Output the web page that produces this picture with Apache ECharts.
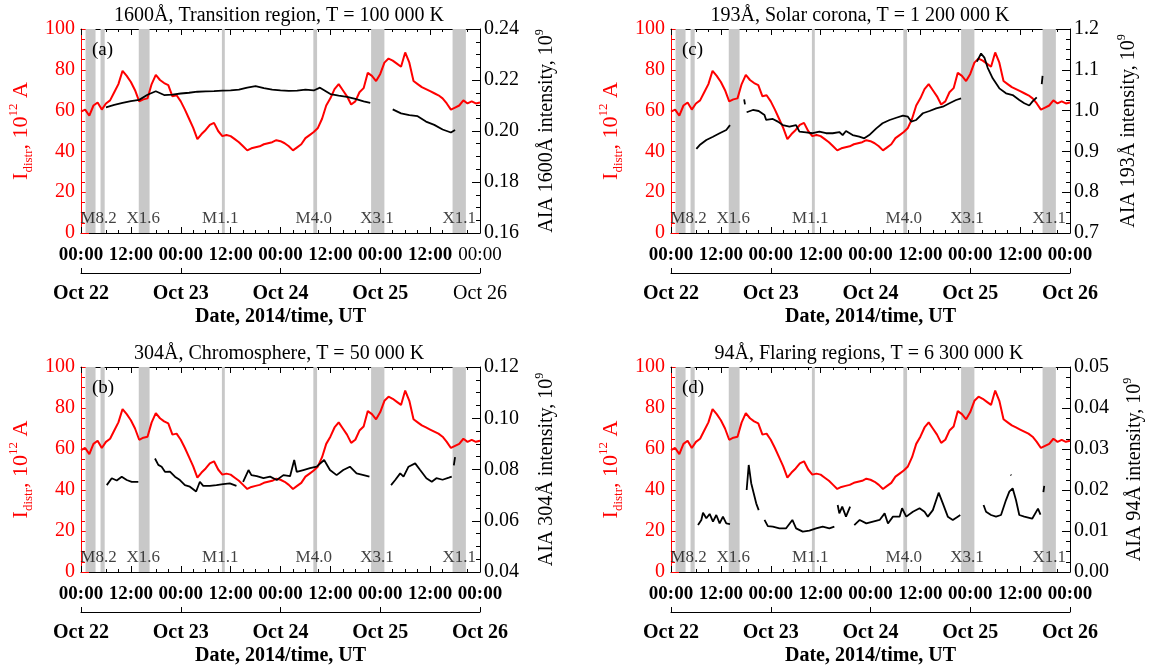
<!DOCTYPE html>
<html>
<head>
<meta charset="utf-8">
<script src="https://cdn.jsdelivr.net/npm/echarts@6/dist/echarts.min.js"></script>
<style>
html, body { margin: 0; padding: 0; background: #fff; }
#chart { width: 1164px; height: 671px; }
</style>
</head>
<body>
<div id="chart"></div>
<script>
// hours since 2014-10-22 00:00 UT
var hours = [0,1,2,3,4,5,6,7,8,9,10,11,12,13,14,15,16,17,18,19,20,21,22,23,24,
  25,26,27,28,29,30,31,32,33,34,35,36,37,38,39,40,41,42,43,44,45,46,47,48,
  49,50,51,52,53,54,55,56,57,58,59,60,61,62,63,64,65,66,67,68,69,70,71,72,
  73,74,75,76,77,78,79,80,81,82,83,84,85,86,87,88,89,90,91,92,93,94,95,96];

// I_distr, 10^12 A (red curve, same in every panel)
var iDistr = [59.5,60.5,57.5,62.5,64,60.5,63.5,65,69,73,79.5,77,74,70,64.5,65.5,66,73,77.5,75,73.5,72.5,67,67.5,64.5,
  60.5,56,51.5,46,48.5,50.5,53,54,50,47.5,48,47.5,46,44.5,42.5,40.5,41.5,42,42.5,43.5,44,44.5,45.5,45,
  44,42.5,40.5,42,43.5,46.5,48,49.5,51.5,56,62.5,66,70.5,73,70,67,63,64.5,69,71,78.5,77,74.5,78,
  83.5,85.5,84.5,83,81.5,88.5,83.5,74.5,73,71.5,70.5,69.5,68.5,67.5,66,63.5,60.5,61.5,62.5,65,63.5,64.5,63.5,64];

// AIA intensities, 10^9 (black curves, null = no data)
var aia1600Hours = [6,8,10,12,14,16,18,20,22,24,26,28,30,32,34,36,38,40,42,44,46,48,50,52,54,56,57.5,60,62,64,
  66,68,69.6,72,75,77,79,81,83,85,87,89,90];
var aia1600 = [0.2093,0.2102,0.2110,0.2117,0.2122,0.2142,0.2156,0.2141,0.2143,0.2147,0.2150,0.2154,0.2155,0.2156,0.2158,
  0.2159,0.2162,0.2170,0.2176,0.2168,0.2162,0.2159,0.2157,0.2158,0.2162,0.2159,0.2170,0.2145,0.2139,0.2134,
  0.2126,0.2116,0.2110,null,0.2085,0.2069,0.2062,0.2058,0.2037,0.2024,0.2006,0.1994,0.2004];

var aia304Hours = [6.2,7.4,8.6,9.8,11,12.2,13.8,16,17.8,18.6,19.4,20.2,21.4,22.6,23.8,25,26.2,27.7,28.6,29.4,31,32.6,
  34.2,35.8,37.4,38.2,39,40.3,41,42.3,43.9,45.5,47.1,48.7,50.3,51.3,51.9,53.5,55.1,56.7,58.5,59.9,61.5,63.1,
  64.7,66.3,68,69.4,72,74.6,75.6,76.8,77.6,78.8,80.4,81.6,83.1,84.4,85.5,87,88.5,89.2,89.5,89.7,90];
var aia304 = [0.0739,0.0766,0.0757,0.0772,0.0759,0.0752,0.0752,null,0.0843,0.0818,0.0811,0.0791,0.0792,0.0772,0.0759,
  0.0739,0.0733,0.0714,0.0752,0.0736,0.0736,0.0739,0.0743,0.0746,0.0736,null,0.0752,0.0798,0.0778,0.0774,0.0766,
  0.0772,0.0759,0.0778,0.0774,0.0837,0.0791,0.0798,0.0805,0.0811,0.0837,0.0798,0.0778,0.0798,0.0811,0.0785,
  0.0778,0.0772,null,0.0739,0.0759,0.0785,0.0772,0.0811,0.0824,0.0798,0.0766,0.0752,0.0766,0.0760,0.0768,0.0772,
  null,0.0816,0.0848];

var aia193Hours = [6.1,6.9,8.5,10.1,11.7,13.3,14.2,16,17.6,17.8,18,18.2,19.7,21.1,22.5,22.9,24.5,25.7,26.9,28.5,30.1,
  30.9,32.5,34.1,35.7,37.3,38.9,40.5,41.3,42.1,43.7,45.3,46.5,47.7,49.4,50.9,52.6,54.2,55.8,57,57.8,
  59,60.6,62.2,63.8,65.4,67,68.6,69.8,72,73.6,74.6,75.4,76.2,77.4,79,80.6,82.2,83.8,85,86.2,87,88,88.6,89.2,89.4];
var aia193 = [0.906,0.9155,0.928,0.936,0.9445,0.9525,0.9645,null,1.0275,1.015,null,0.996,1.0015,0.999,0.989,0.977,0.9795,
  0.973,0.9645,0.9605,0.9645,0.9485,0.9465,0.9445,0.9485,0.9445,0.9445,0.9475,0.94,0.95,0.94,0.936,0.932,0.94,
  0.9565,0.969,0.977,0.9825,0.9875,0.985,0.973,0.977,0.9935,0.999,1.0055,1.0095,1.018,1.026,1.03,null,1.12,1.14,
  1.13,1.105,1.079,1.0545,1.0425,1.038,1.026,1.018,1.0125,1.0225,1.0325,null,1.065,1.085];

var aia94Hours = [6.5,7.3,7.7,8.5,9.3,10.1,10.9,11.7,12.5,13.3,14.2,16,18.2,18.7,19.3,19.9,20.5,21.1,21.8,22.5,23.3,
  24.5,26.1,27.7,29.2,30.1,31.7,33.3,34.9,36.5,38.1,39.3,39.7,40.1,40.5,41.2,42.1,43.1,43.6,44.1,45.4,47,48.6,
  50.2,51.4,52.2,53.4,55,55.6,56.6,58.2,59.8,61,61.8,63,64.4,65.4,66.6,67.8,69,69.6,72,75.2,75.8,77,78.2,79.4,
  80.6,81.4,82.2,83,83.8,85,86.9,88.3,88.9,89.2,89.6,89.8,90,81.7,81.9];
var aia94 = [0.01145,0.0127,0.01445,0.0131,0.01415,0.0123,0.0139,0.01185,0.0135,0.01185,0.0117,null,0.0200,0.0261,0.02165,
  0.0192,0.01675,0.0151,null,0.0127,0.0112,0.01105,0.01065,0.01065,0.0127,0.01065,0.00985,0.0101,0.01065,0.01105,
  0.01065,0.01105,null,0.01635,0.0143,0.01595,0.0135,0.01595,null,0.01145,0.0127,0.01185,0.0123,0.0127,0.0143,
  0.01185,0.0135,0.0135,0.01555,0.0135,0.0147,0.01555,0.0147,0.0135,0.0151,0.01935,0.01675,0.0135,0.0127,0.0135,
  0.0139,null,0.01635,0.0147,0.0139,0.0135,0.0139,0.01755,0.0196,0.0204,0.01755,0.0139,0.0135,0.013,0.01545,0.014,
  null,0.0195,0.021,null,0.0237,0.0236];

// flare intervals (grey bands), hours
var flareStart = [1.1, 4.7, 13.9, 33.9, 55.9, 69.8, 89.4];
var flareEnd = [3.5, 5.7, 16.5, 34.6, 56.8, 73.0, 92.6];
var flareNames = ['M8.2', 'X1.6', 'M1.1', 'M4.0', 'X3.1', 'X1.1'];
var flareNameHours = [4.2, 15, 33.5, 56, 71.2, 91];
var flareNameLevel = 7;

var dayLabels = ['Oct 22', 'Oct 23', 'Oct 24', 'Oct 25', 'Oct 26'];

var FONT = '"Liberation Serif", "Times New Roman", serif';

var panels = [
  {title: '1600Å, Transition region, T = 100 000 K', tag: '(a)', line: '1600Å',
   left: 81, top: 29, titleX: 279, titleTop: 6, tagTop: 41,
   min: 0.16, max: 0.24, step: 0.02, dec: 2, gap: 54, x: aia1600Hours, y: aia1600, light: true},
  {title: '304Å, Chromosphere, T = 50 000 K', tag: '(b)', line: '304Å',
   left: 81, top: 367, titleX: 279, titleTop: 344, tagTop: 379,
   min: 0.04, max: 0.12, step: 0.02, dec: 2, gap: 54, x: aia304Hours, y: aia304},
  {title: '193Å, Solar corona, T = 1 200 000 K', tag: '(c)', line: '193Å',
   left: 671, top: 29, titleX: 860, titleTop: 6, tagTop: 41,
   min: 0.7, max: 1.2, step: 0.1, dec: 1, gap: 46, x: aia193Hours, y: aia193},
  {title: '94Å, Flaring regions, T = 6 300 000 K', tag: '(d)', line: '94Å',
   left: 671, top: 367, titleX: 869, titleTop: 344, tagTop: 379,
   min: 0, max: 0.05, step: 0.01, dec: 2, gap: 52, x: aia94Hours, y: aia94}
];

function zip(xs, ys) {
  return xs.map(function (x, k) { return [x, ys[k]]; });
}

var grid = [], xAxis = [], yAxis = [], series = [], title = [];
var black = '#000', red = '#ff0000';

panels.forEach(function (p, i) {
  grid.push({left: p.left, top: p.top, width: 399, height: p.top > 100 ? 205 : 204, outerBoundsMode: 'none'});

  title.push({text: p.title, left: p.titleX, top: p.titleTop, textAlign: 'center', padding: 0,
    textStyle: {fontFamily: FONT, fontSize: 20, fontWeight: 'normal', color: black}});
  title.push({text: p.tag, left: p.left + 11, top: p.tagTop, padding: 0,
    textStyle: {fontFamily: FONT, fontSize: 19, fontWeight: 'normal', color: black}});

  var lineBlack = {show: true, onZero: false, lineStyle: {color: black, width: 1}};
  // time-of-day axis
  xAxis.push({
    gridIndex: i, type: 'value', min: 0, max: 96, interval: 12, position: 'bottom',
    axisLine: lineBlack,
    axisTick: {show: true, inside: true, length: 6, lineStyle: {color: black}},
    minorTick: {show: true, splitNumber: 4, length: 3, lineStyle: {color: black}},
    splitLine: {show: false},
    axisLabel: {margin: 13, fontFamily: FONT, fontSize: 19, fontWeight: 'bold', color: black,
      rich: {n: {fontFamily: FONT, fontSize: 19, fontWeight: 'normal', color: black}},
      formatter: function (v) {
        var s = v % 24 === 0 ? '00:00' : '12:00';
        return (p.light && v === 96) ? '{n|' + s + '}' : s;
      }}
  });
  // top frame
  xAxis.push({
    gridIndex: i, type: 'value', min: 0, max: 96, interval: 12, position: 'top',
    axisLine: lineBlack,
    axisTick: {show: true, inside: true, length: 6, lineStyle: {color: black}},
    minorTick: {show: true, splitNumber: 4, length: 3, lineStyle: {color: black}},
    splitLine: {show: false}, axisLabel: {show: false}
  });
  // date axis
  xAxis.push({
    gridIndex: i, type: 'value', min: 0, max: 96, interval: 24, position: 'bottom', offset: 40,
    axisLine: lineBlack,
    axisTick: {show: true, inside: true, length: 5, lineStyle: {color: black}},
    splitLine: {show: false},
    axisLabel: {margin: 11, fontFamily: FONT, fontSize: 20, fontWeight: 'bold', color: black,
      rich: {n: {fontFamily: FONT, fontSize: 20, fontWeight: 'normal', color: black}},
      formatter: function (v) {
        var s = dayLabels[Math.round(v / 24)];
        return (p.light && v === 96) ? '{n|' + s + '}' : s;
      }},
    name: 'Date, 2014/time, UT', nameLocation: 'middle', nameGap: 34, nameMoveOverlap: false,
    nameTextStyle: {fontFamily: FONT, fontSize: 20, fontWeight: 'bold', color: black}
  });

  yAxis.push({
    gridIndex: i, type: 'value', min: 0, max: 100, interval: 20, position: 'left',
    axisLine: {show: true, onZero: false, lineStyle: {color: red, width: 1}},
    axisTick: {show: true, inside: true, length: 8, lineStyle: {color: red}},
    minorTick: {show: true, splitNumber: 4, length: 4, lineStyle: {color: red}},
    splitLine: {show: false},
    axisLabel: {margin: 6, fontFamily: FONT, fontSize: 20, color: red},
    name: '{m|I}{sub|distr}{m|, 10}{sup|12}{m| A}', nameLocation: 'middle', nameGap: 46, nameMoveOverlap: false,
    nameTextStyle: {color: red, fontFamily: FONT, fontSize: 22, rich: {
      m: {fontFamily: FONT, fontSize: 22, color: red, lineHeight: 28},
      sub: {fontFamily: FONT, fontSize: 13, color: red, lineHeight: 13, verticalAlign: 'bottom'},
      sup: {fontFamily: FONT, fontSize: 13, color: red, lineHeight: 13, verticalAlign: 'top'}
    }}
  });
  yAxis.push({
    gridIndex: i, type: 'value', min: p.min, max: p.max, interval: p.step, position: 'right',
    axisLine: {show: true, onZero: false, lineStyle: {color: black, width: 1}},
    axisTick: {show: true, inside: true, length: 8, lineStyle: {color: black}},
    minorTick: {show: true, splitNumber: 4, length: 4, lineStyle: {color: black}},
    splitLine: {show: false},
    axisLabel: {margin: 4, fontFamily: FONT, fontSize: 20, color: black,
      formatter: function (v) { return v.toFixed(p.dec); }},
    name: '{m|AIA ' + p.line + ' intensity, 10}{sup|9}', nameLocation: 'middle', nameGap: p.gap, nameMoveOverlap: false,
    nameTextStyle: {color: black, fontFamily: FONT, fontSize: 20, rich: {
      m: {fontFamily: FONT, fontSize: 20, color: black, lineHeight: 26},
      sup: {fontFamily: FONT, fontSize: 12, color: black, lineHeight: 12, verticalAlign: 'top'}
    }}
  });

  var bands = flareStart.map(function (s, k) { return [{xAxis: s}, {xAxis: flareEnd[k]}]; });

  series.push({
    type: 'scatter', xAxisIndex: 3 * i, yAxisIndex: 2 * i, symbolSize: 0, z: 1, silent: true,
    data: flareNames.map(function (n, k) { return {name: n, value: [flareNameHours[k], flareNameLevel]}; }),
    label: {show: true, position: 'inside', formatter: '{b}', fontFamily: FONT, fontSize: 17, color: '#111'},
    markArea: {silent: true, itemStyle: {color: '#c8c8c8'}, data: bands}
  });
  series.push({
    type: 'line', xAxisIndex: 3 * i, yAxisIndex: 2 * i, z: 3, silent: true,
    data: zip(hours, iDistr), showSymbol: false,
    lineStyle: {color: red, width: 2}
  });
  series.push({
    type: 'line', xAxisIndex: 3 * i, yAxisIndex: 2 * i + 1, z: 4, silent: true,
    data: zip(p.x, p.y), showSymbol: false, connectNulls: false,
    lineStyle: {color: black, width: 1.8}
  });
});

var myChart = echarts.init(document.getElementById('chart'));
myChart.setOption({
  animation: false,
  backgroundColor: '#fff',
  title: title,
  grid: grid,
  xAxis: xAxis,
  yAxis: yAxis,
  series: series
});
</script>
</body>
</html>
